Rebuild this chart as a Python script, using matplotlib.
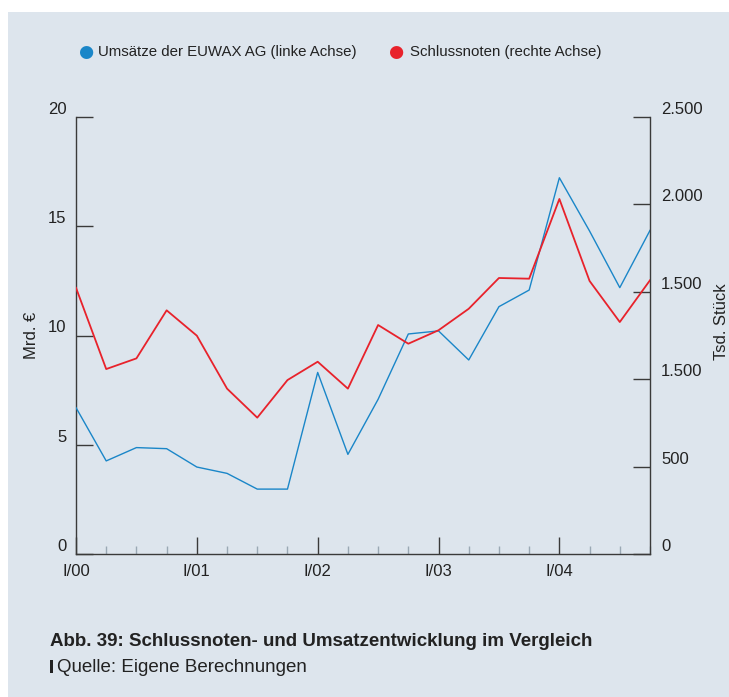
import matplotlib
matplotlib.use("Agg")
import matplotlib.pyplot as plt
from matplotlib.patches import Rectangle

# Quartale I/00 .. IV/04
quarters = list(range(20))
year_labels = ["I/00", "I/01", "I/02", "I/03", "I/04"]

# Umsätze der EUWAX AG in Mrd. Euro (linke Achse)
umsatz = [6.70, 4.26, 4.87, 4.82, 3.98, 3.69, 2.97, 2.97, 8.31, 4.56,
          7.08, 10.07, 10.21, 8.88, 11.32, 12.08, 17.22, 14.78, 12.19, 14.81]

# Schlussnoten in Tsd. Stück (rechte Achse)
schlussnoten = [1523, 1058, 1119, 1394, 1249, 946, 780, 995, 1100, 946,
                1310, 1203, 1280, 1403, 1579, 1575, 2031, 1562, 1327, 1566]

left_ticks = [0, 5, 10, 15, 20]
right_ticks = [0, 500, 1000, 1500, 2000, 2500]
right_labels = ["0", "500", "1.500", "1.500", "2.000", "2.500"]

BG = "#dde5ed"
BLUE = "#1a86c8"
RED = "#e8222b"
AXIS = "#3a3a3a"
TXT = "#222222"
plt.rcParams["font.family"] = ["Liberation Sans", "DejaVu Sans"]

W, H = 729, 697
fig = plt.figure(figsize=(W / 100, H / 100), dpi=100, facecolor="white")
fig.patches.append(Rectangle((8 / W, 0), 1 - 8 / W, 1 - 12 / H,
                             transform=fig.transFigure, facecolor=BG,
                             edgecolor="none", zorder=-10))

ax = fig.add_axes([76 / W, 143 / H, 574 / W, 437 / H])
ax.set_facecolor("none")
ax2 = ax.twinx()

ax.plot(quarters, umsatz, color=BLUE, lw=1.0, zorder=3)
ax2.plot(quarters, schlussnoten, color=RED, lw=1.3, zorder=3)

ax.set_xlim(0, 19)
ax.set_ylim(0, 20)
ax2.set_ylim(0, 2500)

for a in (ax, ax2):
    a.spines["top"].set_visible(False)
    for s in ("left", "right", "bottom"):
        a.spines[s].set_color(AXIS)
        a.spines[s].set_linewidth(1.0)

ax.spines["right"].set_visible(False)
ax2.spines["left"].set_visible(False)
ax2.spines["bottom"].set_visible(False)

ax.set_yticks(left_ticks)
ax.set_yticklabels([str(v) for v in left_ticks])
ax.tick_params(axis="y", direction="in", length=12, width=1, color=AXIS,
               labelsize=12, labelcolor=TXT, pad=7)
for lab in ax.get_yticklabels():
    lab.set_verticalalignment("bottom")

ax2.set_yticks(right_ticks)
ax2.set_yticklabels(right_labels)
ax2.tick_params(axis="y", direction="in", length=12, width=1, color=AXIS,
                labelsize=12, labelcolor=TXT, pad=8)
for lab in ax2.get_yticklabels():
    lab.set_verticalalignment("bottom")

ax.set_xticks(quarters[::4])
ax.set_xticklabels(year_labels)
ax.set_xticks(quarters, minor=True)
ax.tick_params(axis="x", which="major", direction="in", length=12, width=1,
               color=AXIS, labelsize=12, labelcolor=TXT, pad=7)
ax.tick_params(axis="x", which="minor", direction="in", length=6, width=1,
               color="#9aa8b4")

fig.text(32 / W, 1 - 335 / H, "Mrd. €", rotation=90, ha="center", va="center",
         fontsize=12, color=TXT)
fig.text(721 / W, 1 - 322 / H, "Tsd. Stück", rotation=90, ha="center",
         va="center", fontsize=12, color=TXT)

# Legende oben
fig.text(86 / W, 1 - 52 / H, "●", color=BLUE, fontsize=12.5, ha="center",
         va="center", family="DejaVu Sans")
fig.text(98 / W, 1 - 52 / H, "Umsätze der EUWAX AG (linke Achse)",
         fontsize=10.8, color=TXT, va="center")
fig.text(396 / W, 1 - 52 / H, "●", color=RED, fontsize=12.5, ha="center",
         va="center", family="DejaVu Sans")
fig.text(410 / W, 1 - 52 / H, "Schlussnoten (rechte Achse)",
         fontsize=10.8, color=TXT, va="center")

# Bildunterschrift
fig.text(50 / W, 1 - 642 / H,
         "Abb. 39: Schlussnoten- und Umsatzentwicklung im Vergleich",
         fontsize=13.5, weight="bold", color=TXT, va="center")
fig.patches.append(Rectangle((50 / W, 1 - 673 / H), 3 / W, 13 / H,
                             transform=fig.transFigure, facecolor=TXT,
                             edgecolor="none"))
fig.text(57 / W, 1 - 667 / H, "Quelle: Eigene Berechnungen",
         fontsize=13.5, color=TXT, va="center")

fig.savefig("out.png", dpi=100, facecolor="white")
